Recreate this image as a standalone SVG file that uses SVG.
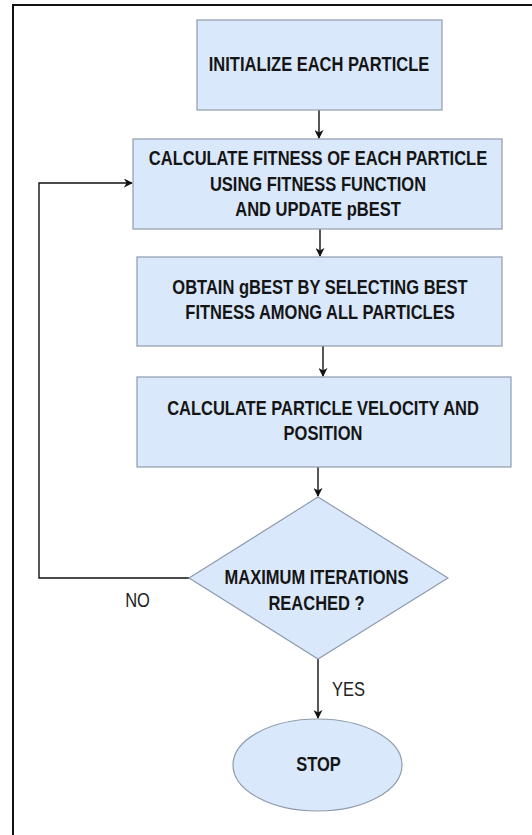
<svg xmlns="http://www.w3.org/2000/svg" width="532" height="835" viewBox="0 0 532 835">
<style>
.shape{fill:#dae8fc;stroke:#8e9cac;stroke-width:1.2}
.lbl{font-family:"Liberation Sans",Arial,sans-serif;font-size:16.5px;font-weight:bold;fill:#151515;text-anchor:middle}
.edge{font-family:"Liberation Sans",Arial,sans-serif;font-size:16.5px;fill:#222}
.conn{fill:none;stroke:#111;stroke-width:1.4}
.frame{fill:none;stroke:#111;stroke-width:2}
</style>
<defs>
<marker id="arr" viewBox="0 0 10 10" refX="9" refY="5" markerWidth="9" markerHeight="9" markerUnits="userSpaceOnUse" orient="auto">
<path d="M0,0 L10,5 L0,10 L3,5 Z" fill="#111"/>
</marker>
</defs>
<rect x="0" y="0" width="532" height="835" fill="#fff"/>
<path class="frame" d="M13,835 V5 H532"/>

<g id="connectors">
<path class="conn" d="M319,110 V138" marker-end="url(#arr)"/>
<path class="conn" d="M320,229 V256" marker-end="url(#arr)"/>
<path class="conn" d="M323,346 V376" marker-end="url(#arr)"/>
<path class="conn" d="M318,467 V496" marker-end="url(#arr)"/>
<path class="conn" d="M318,659 V718" marker-end="url(#arr)"/>
<path class="conn" d="M189,578 H39 V183 H132" marker-end="url(#arr)"/>
<text class="edge" transform="translate(137.5,606.5) scale(1,1.22)" text-anchor="middle">NO</text>
<text class="edge" transform="translate(332,695.5) scale(1,1.22)">YES</text>
</g>

<g id="init">
<rect class="shape" x="197" y="20" width="245" height="90"/>
<text class="lbl" transform="translate(319,70.5) scale(1,1.22)">INITIALIZE EACH PARTICLE</text>
</g>

<g id="fitness">
<rect class="shape" x="133" y="139" width="369" height="90"/>
<text class="lbl" transform="translate(318,164.5) scale(1,1.22)">CALCULATE FITNESS OF EACH PARTICLE</text>
<text class="lbl" transform="translate(318,190.5) scale(1,1.22)">USING FITNESS FUNCTION</text>
<text class="lbl" transform="translate(318,215.5) scale(1,1.22)">AND UPDATE pBEST</text>
</g>

<g id="gbest">
<rect class="shape" x="137" y="257" width="365" height="89"/>
<text class="lbl" transform="translate(320,293.5) scale(1,1.22)">OBTAIN gBEST BY SELECTING BEST</text>
<text class="lbl" transform="translate(320,318.5) scale(1,1.22)">FITNESS AMONG ALL PARTICLES</text>
</g>

<g id="velocity">
<rect class="shape" x="137" y="377" width="374" height="90"/>
<text class="lbl" transform="translate(323,414.5) scale(1,1.22)">CALCULATE PARTICLE VELOCITY AND</text>
<text class="lbl" transform="translate(323,439.5) scale(1,1.22)">POSITION</text>
</g>

<g id="decision">
<polygon class="shape" points="318,497 448,578 318,659 189,578"/>
<text class="lbl" transform="translate(316.5,583.5) scale(1,1.22)">MAXIMUM ITERATIONS</text>
<text class="lbl" transform="translate(316.5,609.5) scale(1,1.22)">REACHED ?</text>
</g>

<g id="stop">
<ellipse class="shape" cx="317.5" cy="765" rx="84.5" ry="46"/>
<text class="lbl" transform="translate(318.5,770.5) scale(1,1.22)">STOP</text>
</g>
</svg>
